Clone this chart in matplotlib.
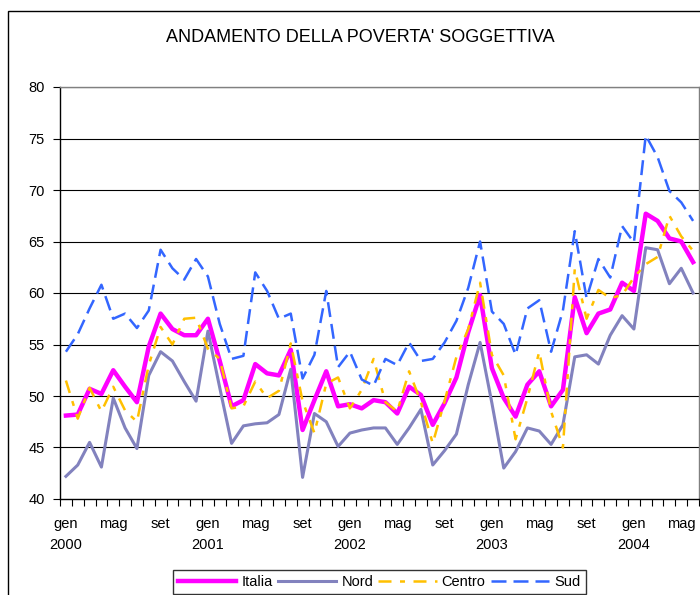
import numpy as np
import matplotlib
matplotlib.use("Agg")
import matplotlib.pyplot as plt
from matplotlib.patches import Rectangle

plt.rcParams['font.family'] = ['Liberation Sans', 'DejaVu Sans']

# mesi gen 2000 - giu 2004
mesi = ['gen', 'feb', 'mar', 'apr', 'mag', 'giu', 'lug', 'ago', 'set', 'ott', 'nov', 'dic']
anni = [2000, 2001, 2002, 2003, 2004]
n_mesi = 54

italia = [48.1, 48.2, 50.7, 50.2, 52.5, 50.9, 49.4, 54.8, 58.0, 56.5,
          55.9, 55.9, 57.5, 53.4, 49.0, 49.6, 53.1, 52.2, 52.0, 54.5,
          46.7, 49.6, 52.4, 49.0, 49.2, 48.8, 49.6, 49.4, 48.3, 50.9,
          50.1, 47.2, 49.3, 51.8, 56.2, 59.8, 52.7, 49.8, 48.0, 51.1,
          52.4, 49.0, 50.6, 59.6, 56.1, 58.0, 58.4, 61.0, 60.2, 67.7,
          67.0, 65.3, 65.0, 63.0]
nord = [42.2, 43.3, 45.5, 43.1, 49.8, 46.9, 44.9, 52.0, 54.3, 53.4,
        51.4, 49.5, 56.3, 50.8, 45.4, 47.1, 47.3, 47.4, 48.2, 52.6,
        42.1, 48.3, 47.5, 45.1, 46.4, 46.7, 46.9, 46.9, 45.3, 46.9,
        48.7, 43.3, 44.7, 46.3, 51.1, 55.2, 49.3, 43.0, 44.6, 46.9,
        46.6, 45.3, 47.2, 53.8, 54.0, 53.1, 55.9, 57.8, 56.5, 64.4,
        64.2, 60.9, 62.4, 60.0]
centro = [51.5, 47.8, 50.8, 48.5, 50.9, 48.6, 47.5, 53.0, 56.7, 55.0,
          57.5, 57.6, 54.6, 53.6, 48.8, 49.0, 51.4, 49.8, 50.5, 55.1,
          49.5, 46.4, 51.2, 51.8, 48.8, 50.6, 53.6, 49.4, 48.5, 52.4,
          49.4, 45.4, 49.5, 53.8, 56.5, 61.0, 54.0, 52.0, 45.8, 49.8,
          54.3, 48.5, 45.0, 62.3, 57.5, 60.3, 59.5, 59.8, 61.5, 62.8,
          63.5, 67.5, 65.5, 64.1]
sud = [54.3, 56.0, 58.5, 60.8, 57.5, 58.0, 56.6, 58.3, 64.2, 62.4,
       61.3, 63.3, 61.6, 57.0, 53.6, 53.9, 62.0, 60.2, 57.5, 58.0,
       51.7, 54.0, 60.2, 52.8, 54.3, 51.6, 51.0, 53.6, 53.0, 55.2,
       53.4, 53.6, 55.2, 57.3, 60.5, 65.0, 58.2, 57.0, 54.0, 58.5,
       59.3, 54.3, 58.3, 66.0, 59.5, 63.3, 61.5, 66.5, 64.9, 75.3,
       73.2, 69.9, 68.8, 67.0]

W, H = 700, 595
fig = plt.figure(figsize=(W / 100, H / 100), dpi=100)
ax = fig.add_axes([60 / W, 1 - 499 / H, 639 / W, 412 / H])

x = np.arange(n_mesi)
ax.plot(x, italia, color='#FF00FF', lw=3.2, label='Italia')
ax.plot(x, nord, color='#8282BE', lw=2.2, label='Nord')
ax.plot(x, centro, color='#FFC000', lw=1.8, linestyle=(0, (5.2, 3.4, 2.0, 3.4)), label='Centro')
ax.plot(x, sud, color='#3366FF', lw=1.8, linestyle=(0, (6, 2.8)), label='Sud')

ax.set_xlim(-0.5, n_mesi - 0.5)
ax.set_ylim(40, 80)
ax.set_yticks(np.arange(40, 81, 5))
for v in range(45, 81, 5):
    ax.axhline(v, color='black', lw=0.8, zorder=0)

# etichette asse x: gen / mag / set, anno sotto gennaio
pos = list(range(0, n_mesi, 4))
lab = []
for p in pos:
    m = mesi[p % 12]
    if m == 'gen':
        lab.append(f"{m}\n{anni[p // 12]}")
    else:
        lab.append(m)
ax.set_xticks(pos)
ax.set_xticklabels(lab, fontsize=10.5, linespacing=1.65)
ax.set_xticks(np.arange(-0.5, n_mesi, 1), minor=True)
ax.tick_params(axis='x', which='major', length=0, pad=13)
ax.tick_params(axis='x', which='minor', length=5, width=0.8, direction='out')
ax.tick_params(axis='y', length=5, width=0.8, direction='out', pad=6, labelsize=10.5)

for s in ['left', 'bottom']:
    ax.spines[s].set_color('black')
    ax.spines[s].set_linewidth(1.0)
for s in ['top', 'right']:
    ax.spines[s].set_color('#808080')
    ax.spines[s].set_linewidth(1.0)

fig.text(360 / W, 1 - 38 / H, "ANDAMENTO DELLA POVERTA' SOGGETTIVA",
         ha='center', va='center', fontsize=13)

# cornice dell'area grafico
fig.add_artist(Rectangle((8 / W, -0.1), 1.2, 1.1 - 11 / H, transform=fig.transFigure,
                         fill=False, edgecolor='black', lw=1.0))

leg = fig.legend(loc='upper left', bbox_to_anchor=(173 / W, 1 - 570 / H), ncol=4,
                 fontsize=10.5, frameon=True, fancybox=False, edgecolor='black',
                 handlelength=4.0, handletextpad=0.35, columnspacing=0.35,
                 borderpad=0.35, borderaxespad=0)
leg.get_frame().set_linewidth(1.0)

fig.savefig('out.png', dpi=100)
